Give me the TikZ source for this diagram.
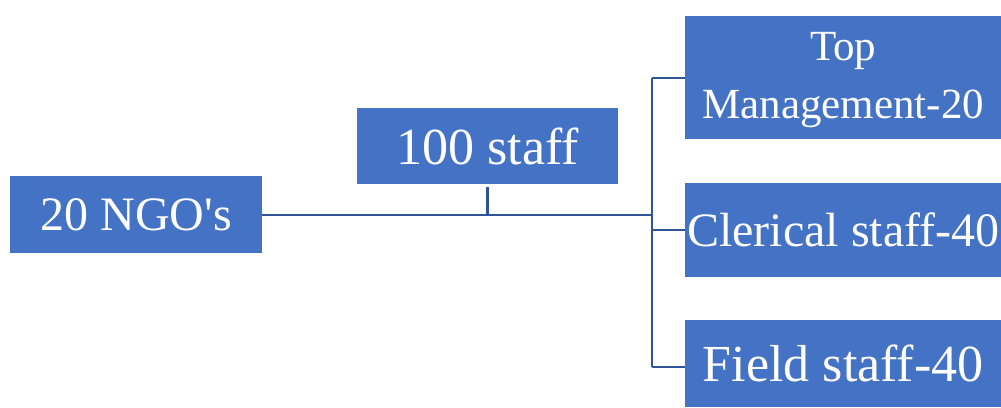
\documentclass[tikz,border=0pt]{standalone}
\usepackage{fontspec}
\setmainfont{Liberation Serif}
\definecolor{boxblue}{RGB}{68,114,196}
\definecolor{lineblue}{RGB}{47,85,151}
\begin{document}
\begin{tikzpicture}[x=1pt,y=-1pt,
  box/.style={fill=boxblue,draw=none,inner sep=0pt,text=white,anchor=north west,align=center},
  conn/.style={draw=lineblue,line width=2.5pt}]
\useasboundingbox (0,0) rectangle (1001,407);
\node[box,minimum width=252pt,minimum height=77pt,font=\fontsize{48}{56}\selectfont] (ngo) at (10,176) {20 NGO\textquotesingle s};
\node[box,minimum width=261pt,minimum height=76pt,font=\fontsize{52}{60}\selectfont] (staff) at (357,108) {100 staff};
\node[box,minimum width=316pt,minimum height=123pt,font=\fontsize{43}{58}\selectfont] (top) at (685,16)
  {\raisebox{-5pt}{\begin{tabular}{@{}c@{}}Top\\Management-20\end{tabular}}};
\node[box,minimum width=316pt,minimum height=94pt,font=\fontsize{48}{56}\selectfont] (cler) at (685,183) {Clerical staff-40};
\node[box,minimum width=316pt,minimum height=87pt,font=\fontsize{52}{60}\selectfont] (field) at (685,320) {Field staff-40};
\coordinate (j) at (652,215);
\coordinate (jt) at (652,78);
\coordinate (jb) at (652,367);
\coordinate (jm) at (652,230);
\draw[conn] (ngo.east |- j) -- (j);
\draw[conn] ([yshift=-3pt]staff.south) -- (staff.south |- j);
\draw[conn] (jt) -- (jb);
\draw[conn] (jt) -- (jt -| top.west);
\draw[conn] (jm) -- (jm -| cler.west);
\draw[conn] (jb) -- (jb -| field.west);
\end{tikzpicture}
\end{document}
